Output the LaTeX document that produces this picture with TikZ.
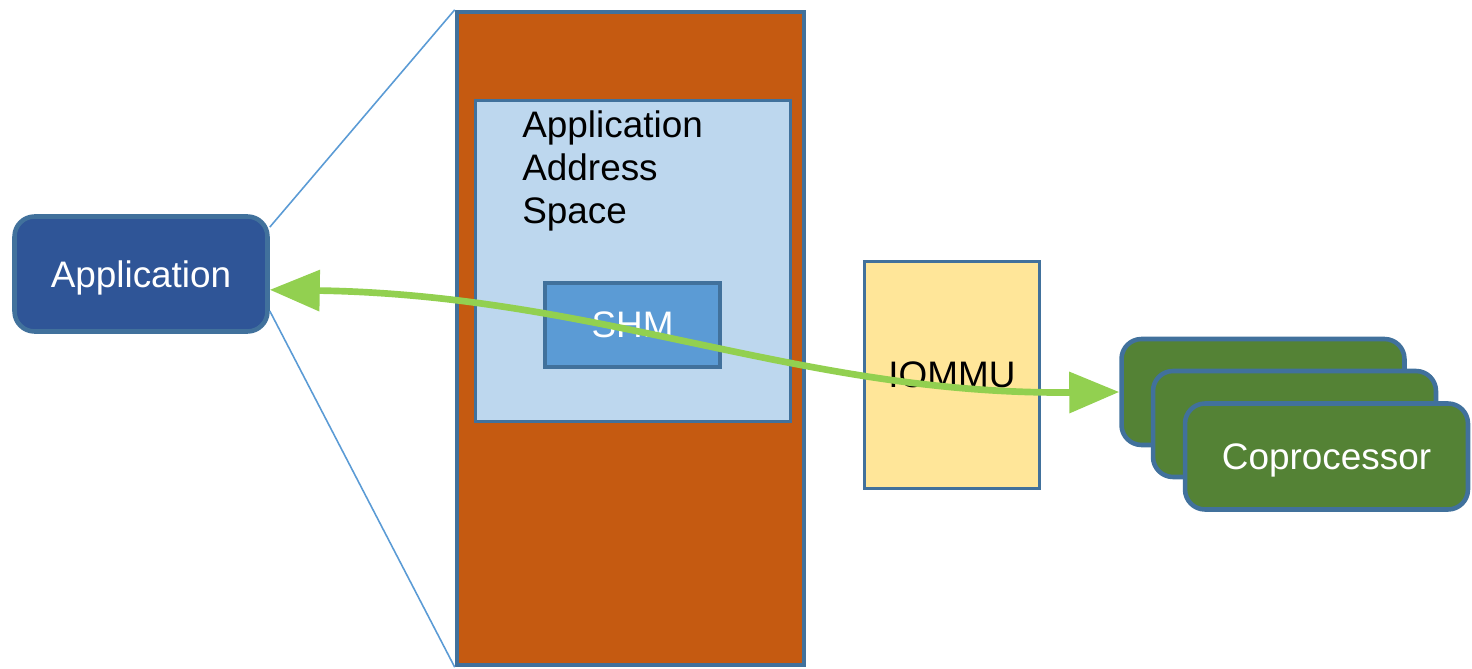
\documentclass[tikz,border=0pt]{standalone}
\usepackage{fontspec}
\setmainfont{Liberation Sans}
\usetikzlibrary{arrows.meta,positioning}
\definecolor{boxline}{HTML}{41719C}
\definecolor{appblue}{HTML}{2F5597}
\definecolor{memorange}{HTML}{C55A11}
\definecolor{spaceblue}{HTML}{BDD7EE}
\definecolor{shmblue}{HTML}{5B9BD5}
\definecolor{iommuyellow}{HTML}{FFE699}
\definecolor{copgreen}{HTML}{548235}
\definecolor{linkgreen}{HTML}{92D050}
\tikzset{>={Triangle[length=1cm,width=0.8cm]}}
\tikzset{
    blk/.style={draw=boxline,line width=2.6pt,inner sep=0pt,text depth=0pt},
    roundblk/.style={blk,rounded corners=0.4cm,text=white},
    edgeline/.style={draw=shmblue,line width=0.9pt},
    link/.style={draw=linkgreen,line width=3.8pt}
}

\begin{document}
\begin{tikzpicture}[x=0.02cm,y=-0.02cm,font=\fontsize{21}{24.4}\selectfont]
                \useasboundingbox (0,0) rectangle (1472,669);
                \node[roundblk, fill=appblue, minimum width=5.06cm, minimum height=2.3cm] (app) at (141,274) {Application};
                \node[blk, fill=memorange, minimum width=6.94cm, minimum height=13.06cm] (mem) at (630.5,338.5) {};
                \node[blk, line width=2pt, fill=spaceblue, minimum width=6.3cm, minimum height=6.42cm] (aspace) at (633,261) {};
                \node[anchor=base west, inner sep=0pt, align=left] (aspacetext) at (522,223) {Application\\Address\\Space};
                \node[blk, fill=shmblue, text=white, minimum width=3.5cm, minimum height=1.68cm] (shm) at (632.5,325) {SHM};
                \node[blk, line width=2pt, fill=iommuyellow, minimum width=3.5cm, minimum height=4.54cm] (iommu) at (952,375) {IOMMU};
                \node[roundblk, fill=copgreen, minimum width=5.66cm, minimum height=2.12cm] (cop1) at (1263,392) {};
                \node[roundblk, fill=copgreen, minimum width=5.66cm, minimum height=2.12cm] (cop2) at (1294.5,424) {};
                \node[roundblk, fill=copgreen, minimum width=5.66cm, minimum height=2.12cm] (cop3) at (1326.5,456.5) {Coprocessor};
                \path[edgeline]
                    (app.20) -- (mem.north west)
                    (app.-16) -- (mem.south west);
                \draw[link,<->] (app.-7) .. controls (600,295) and (800,395) .. (cop1.west);
            \end{tikzpicture}
\end{document}
